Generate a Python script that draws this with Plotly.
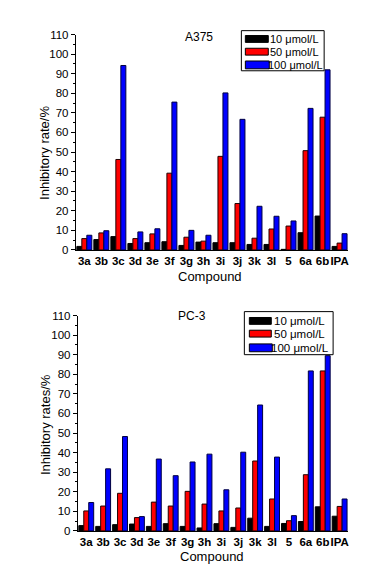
import plotly.graph_objects as go

W, H = 369, 571

compounds = ["3a", "3b", "3c", "3d", "3e", "3f", "3g", "3h", "3i", "3j", "3k", "3l", "5", "6a", "6b", "IPA"]
series_names = ["10 \u03bcmol/L", "50 \u03bcmol/L", "100 \u03bcmol/L"]

a375_10 = [1.8, 5.3, 6.8, 3.3, 3.7, 4.2, 2.3, 4.0, 3.7, 3.7, 2.8, 2.8, 0.3, 8.8, 17.3, 1.8]
a375_50 = [5.8, 8.7, 46.2, 5.8, 8.2, 39.2, 6.5, 4.5, 47.8, 23.7, 6.0, 10.7, 12.2, 50.7, 67.8, 3.5]
a375_100 = [7.5, 9.8, 94.2, 9.2, 10.8, 75.5, 10.0, 7.5, 80.2, 66.7, 22.3, 17.2, 14.8, 72.3, 92.0, 8.3]

pc3_10 = [2.7, 2.3, 3.2, 3.5, 2.3, 3.7, 2.3, 1.5, 3.7, 1.8, 6.5, 2.3, 3.8, 4.8, 12.3, 7.5]
pc3_50 = [10.2, 12.7, 19.2, 6.8, 14.7, 12.7, 20.2, 13.7, 10.2, 11.7, 35.7, 16.3, 5.2, 28.7, 81.7, 12.5]
pc3_100 = [14.5, 31.7, 48.2, 7.3, 36.7, 28.2, 35.2, 39.2, 21.0, 40.2, 64.3, 37.7, 7.8, 81.7, 89.5, 16.3]

fills = ["#000000", "#ff0000", "#0000ff"]
outlines = ["#000000", "#200000", "#000040"]

FONT = "Liberation Sans, Arial, sans-serif"

fig = go.Figure()

top_sets = [a375_10, a375_50, a375_100]
bot_sets = [pc3_10, pc3_50, pc3_100]
for i in range(3):
    fig.add_trace(go.Bar(x=compounds, y=top_sets[i], name=series_names[i],
                         marker=dict(color=fills[i], line=dict(color=outlines[i], width=1)),
                         xaxis="x", yaxis="y", showlegend=False))
for i in range(3):
    fig.add_trace(go.Bar(x=compounds, y=bot_sets[i], name=series_names[i],
                         marker=dict(color=fills[i], line=dict(color=outlines[i], width=1)),
                         xaxis="x2", yaxis="y2", showlegend=False))

def px_x(p):
    return p / W

def px_y(p):
    return 1 - p / H

yaxis_common = dict(range=[0, 110], dtick=10, tick0=0, showline=True, linecolor="black", linewidth=1,
                    ticks="outside", ticklen=4, tickcolor="black", showgrid=False, zeroline=False,
                    tickfont=dict(family=FONT, size=11.5, color="black"),
                    minor=dict(dtick=5, ticks="outside", ticklen=2, tickcolor="black"))
xaxis_common = dict(showline=True, linecolor="black", linewidth=1, ticks="", showgrid=False,
                    range=[-0.5, 15.5], tickangle=0, tickfont=dict(family=FONT, size=11.5, color="black"),
                    tickprefix="<b>", ticksuffix="</b>")

fig.update_layout(
    width=W, height=H, margin=dict(l=0, r=0, t=0, b=0),
    paper_bgcolor="white", plot_bgcolor="white",
    barmode="group", bargap=0.12, bargroupgap=0,
    xaxis=dict(domain=[px_x(68), px_x(341)], anchor="y", **xaxis_common),
    yaxis=dict(domain=[px_y(241), px_y(21)], anchor="x", **yaxis_common),
    xaxis2=dict(domain=[px_x(70), px_x(341)], anchor="y2", **xaxis_common),
    yaxis2=dict(domain=[px_y(528), px_y(308)], anchor="x2", **yaxis_common),
    showlegend=False,
)

# Custom legends (box, swatches, labels) in paper coordinates
def add_legend(box, swatches, text_x, text_ys, fsize):
    x0, y0, x1, y1 = box
    fig.add_shape(type="rect", xref="paper", yref="paper",
                  x0=px_x(x0), x1=px_x(x1), y0=px_y(y1), y1=px_y(y0),
                  line=dict(color="black", width=1), fillcolor="white", layer="above")
    for i, (sx0, sy0, sx1, sy1) in enumerate(swatches):
        fig.add_shape(type="rect", xref="paper", yref="paper",
                      x0=px_x(sx0), x1=px_x(sx1), y0=px_y(sy1), y1=px_y(sy0),
                      line=dict(color="black", width=1), fillcolor=fills[i], layer="above")
        fig.add_annotation(text=series_names[i], x=px_x(text_x[i]), y=px_y(text_ys[i]),
                           xref="paper", yref="paper", xanchor="left", yanchor="middle",
                           showarrow=False, font=dict(family=FONT, size=fsize, color="black"))

add_legend((234, 17, 317, 58),
           [(238, 22, 261, 29), (238, 35, 261, 42), (238, 48, 262, 56)],
           [261, 261, 259], [25.7, 38.7, 52], 11)
add_legend((237, 304, 326, 348),
           [(242, 310, 264, 317), (242, 323, 264, 330), (242, 337, 265, 345)],
           [265, 265, 262], [313.7, 326.5, 341], 11.5)

ann_font = dict(family=FONT, size=12, color="black")
title_font = dict(family=FONT, size=13, color="black")

def add_text(text, x, y, font, angle=0):
    fig.add_annotation(text=text, x=px_x(x), y=px_y(y), xref="paper", yref="paper",
                       xanchor="center", yanchor="middle", showarrow=False,
                       textangle=angle, font=font)

add_text("A375", 192, 24, ann_font)
add_text("PC-3", 184, 308, ann_font)
add_text("Compound", 203, 268, title_font)
add_text("Compound", 205, 554, title_font)
add_text("Inhibitory rate/%", 36, 142, title_font, -90)
add_text("Inhibitory rates/%", 37, 419, title_font, -90)

fig.write_html("out.html")
